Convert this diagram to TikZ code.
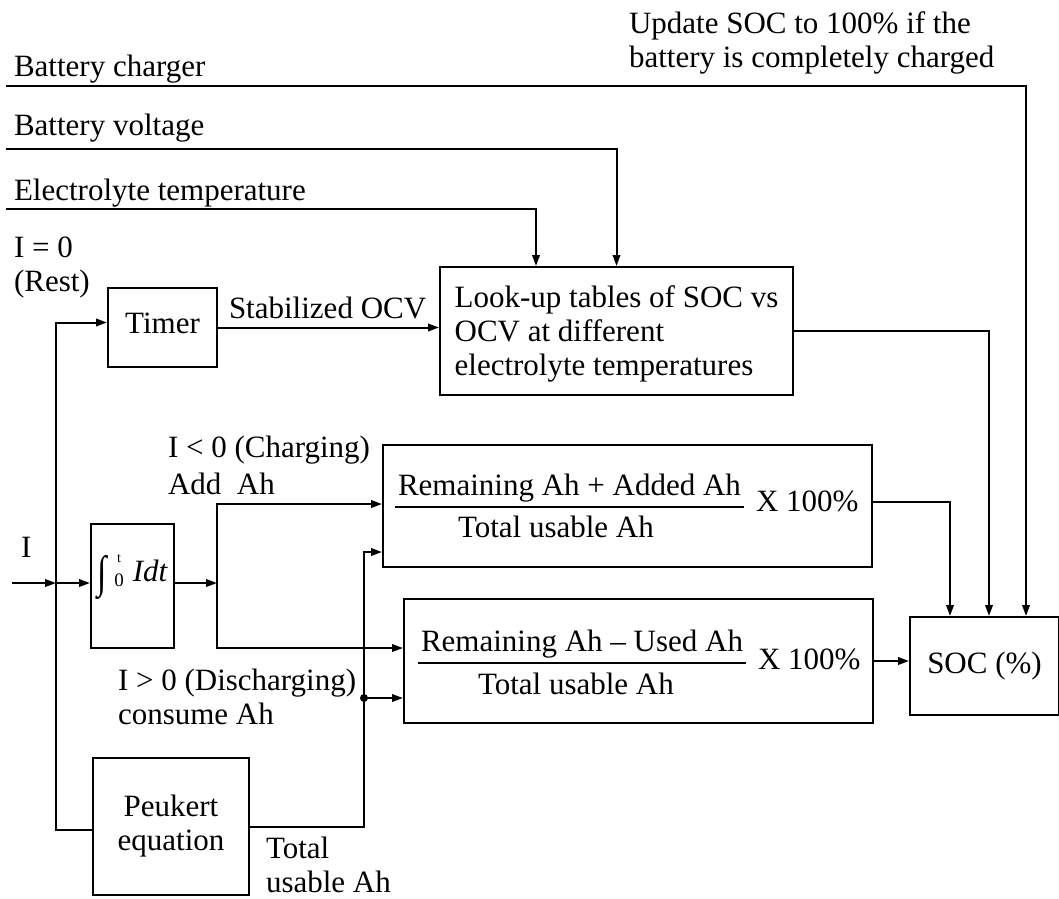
\documentclass[tikz,border=0pt]{standalone}
\usepackage{fontspec}
\usepackage{graphicx}
\setmainfont{Liberation Serif}
\usetikzlibrary{arrows.meta,calc}
\newcommand{\mlt}[1]{\begin{tabular}[t]{@{}l@{}}#1\end{tabular}}
\newcommand{\mct}[1]{\begin{tabular}[t]{@{}c@{}}#1\end{tabular}}
\begin{document}
\begin{tikzpicture}[x=1pt,y=-1pt,line width=2pt,
  font=\fontsize{31}{34}\selectfont,
  box/.style={draw,rectangle,inner sep=0pt,anchor=north west},
  lbl/.style={inner sep=0pt,anchor=base west},
  arr/.style={-{Triangle[length=11pt,width=7.5pt]}}]
\useasboundingbox (0,0) rectangle (1059,898);
\fill[white] (0,0) rectangle (1059,898);

% boxes
\node[box,minimum width=109pt,minimum height=79pt,text height=21pt,text depth=10pt] (timer) at (107,287) {Timer};
\node[box,minimum width=353pt,minimum height=128pt] (lookup) at (439,266)
  {\mlt{\rule{0pt}{31.8pt}Look-up tables of SOC vs\\OCV at different\\electrolyte temperatures}};
\node[box,minimum width=83pt,minimum height=124pt,text height=20pt,text depth=30pt] (integ) at (90,523)
  {\raisebox{-6pt}{\scalebox{1.1}[1.45]{∫}}\kern8pt\raisebox{-5pt}{\shortstack[c]{{\fontsize{14}{14}\selectfont t}\\[8pt]{\fontsize{19}{19}\selectfont 0}}}\kern9pt\textit{Idt}};
\node[box,minimum width=489pt,minimum height=122pt] (add) at (382,444) {};
\node[box,minimum width=469pt,minimum height=124pt] (sub) at (403,598) {};
\node[box,minimum width=149pt,minimum height=98pt] (soc) at (909,616) {SOC (\%)};
\node[box,minimum width=156pt,minimum height=137pt] (peuk) at (92,757) {\mct{Peukert\\equation}};

% formula texts
\node[lbl,inner xsep=2pt,text depth=11pt] (addnum) at (395,495) {Remaining Ah + Added Ah};
\draw[line width=1.6pt] (addnum.south west) -- (addnum.south east);
\node[lbl] (addden) at (457,537) {Total usable Ah};
\node[lbl] (addx) at (755,511) {X 100\%};
\node[lbl,inner xsep=2pt,text depth=11pt] (subnum) at (418,651) {Remaining Ah – Used Ah};
\draw[line width=1.6pt] (subnum.south west) -- (subnum.south east);
\node[lbl] (subden) at (477,694) {Total usable Ah};
\node[lbl] (subx) at (757,669) {X 100\%};

% labels
\node[lbl] (tupd) at (628,33) {\mlt{Update SOC to 100\% if the\\battery is completely charged}};
\node[lbl] (tchg) at (13,76) {Battery charger};
\node[lbl] (tvolt) at (13,135) {Battery voltage};
\node[lbl] (ttemp) at (13,200) {Electrolyte temperature};
\node[lbl] (trest) at (13,257) {\mlt{I = 0\\(Rest)}};
\node[lbl] (tocv) at (228,318) {Stabilized OCV};
\node[lbl] (tchgI) at (167,457) {\mlt{I < 0 (Charging)\\[3pt]Add\ \ Ah}};
\node[lbl] (tI) at (20,557) {I};
\node[lbl] (tdis) at (117,690) {\mlt{I > 0 (Discharging)\\consume Ah}};
\node[lbl] (ttot) at (265,858) {\mlt{Total\\usable Ah}};

% free ends
\coordinate (chgin) at (6,86);
\coordinate (voltin) at (6,149);
\coordinate (tempin) at (6,209);
\coordinate (iin) at (12,583);
\coordinate (jn) at (56,583);
\coordinate (split) at (217,583);
\coordinate (bus) at (364,698);

% connectors
\draw[arr] (chgin) -| ([xshift=117pt]soc.north west);
\draw[arr] (voltin) -| (lookup.north);
\draw[arr] (tempin) -| ([xshift=97pt]lookup.north west);
\draw[arr] (timer.east) -- (timer.east -| lookup.west);
\draw[arr] (lookup.east) -| ([xshift=80pt]soc.north west);
\draw[arr] ([yshift=4pt]add.east) -| ([xshift=41pt]soc.north west);
\draw[arr] (sub.east) -- (sub.east -| soc.west);
\draw[arr] (iin) -- (jn);
\draw[arr] (jn) -- (jn -| integ.west);
\draw[arr] (jn) |- ([yshift=5pt]timer.west);
\draw (jn) |- ([yshift=-3pt]peuk.west);
\draw[arr] (integ.east |- split) -- (split);
\draw[arr] (split) |- ([yshift=2pt]add.west);
\draw[arr] (split) |- ([yshift=13pt]sub.west);
\draw (peuk.east) -| (bus);
\draw[arr] (bus) |- ([yshift=-46pt]add.west);
\draw[arr] (bus) -- (bus -| sub.west);
\fill (bus) circle (4pt);
\end{tikzpicture}
\end{document}
